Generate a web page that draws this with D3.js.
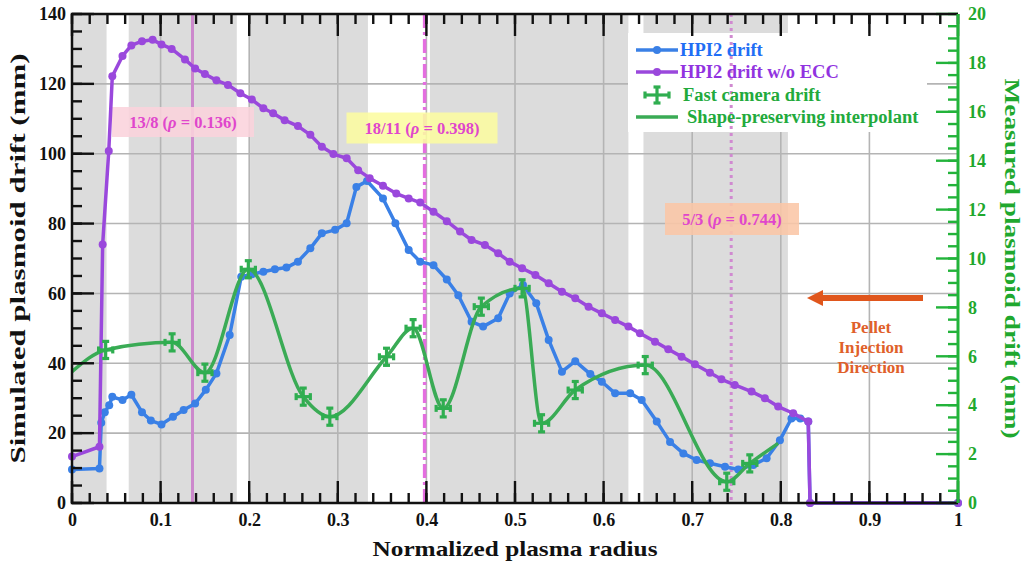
<!DOCTYPE html>
<html>
<head>
<meta charset="utf-8">
<script src="https://cdn.jsdelivr.net/npm/d3@7"></script>
<style>
body { margin: 0; background: #fff; }
text { font-family: "Liberation Serif", "Times New Roman", serif; font-weight: bold; }
</style>
</head>
<body>
<div id="vis"></div>
<script>
// simulated drift, with ECC (blue)
var hpiX = [0, 0.031, 0.033, 0.037, 0.042, 0.0455, 0.057, 0.067, 0.079, 0.089, 0.101, 0.114, 0.126, 0.139, 0.151, 0.163, 0.178, 0.191,
    0.203, 0.216, 0.229, 0.242, 0.255, 0.269, 0.282, 0.297, 0.310, 0.321, 0.333, 0.351, 0.365, 0.380, 0.393, 0.408, 0.423, 0.436,
    0.451, 0.464, 0.481, 0.494, 0.509, 0.524, 0.538, 0.553, 0.568, 0.585, 0.598, 0.613, 0.630, 0.643, 0.660, 0.675, 0.690, 0.705,
    0.720, 0.737, 0.752, 0.769, 0.784, 0.799, 0.812, 0.822, 0.831, 0.833, 1];
var hpiY = [9.6, 9.9, 23, 26, 28, 30.4, 29.5, 31, 26, 23.6, 22.5, 24.7, 26.6, 28.5, 32.4, 37.1, 48.1, 64.8,
    65.5, 66.2, 66.9, 67.4, 69.1, 72.9, 77.2, 78.2, 80.1, 90.5, 92.2, 87.2, 80.1, 72.4, 69.1, 68.1, 64, 59.5,
    51.9, 50.5, 52.9, 60, 62.4, 57.2, 46.7, 37.6, 40.6, 36.9, 34.7, 31.4, 31.4, 29.5, 23.3, 17.5, 14.2, 12.3,
    11.4, 10.4, 9.6, 10.9, 12.8, 18, 24.2, 24.2, 23.3, 0, 0];

// simulated drift without ECC (purple)
var eccX = [0, 0.031, 0.0346, 0.0415, 0.0455, 0.057, 0.067, 0.079, 0.091, 0.101, 0.1125, 0.1275, 0.139, 0.150, 0.163, 0.176, 0.190,
    0.203, 0.216, 0.227, 0.240, 0.255, 0.269, 0.282, 0.295, 0.310, 0.323, 0.336, 0.351, 0.366, 0.380, 0.393, 0.408, 0.423, 0.438,
    0.451, 0.466, 0.481, 0.494, 0.508, 0.523, 0.538, 0.553, 0.568, 0.583, 0.598, 0.613, 0.628, 0.641, 0.658, 0.673, 0.688, 0.703,
    0.720, 0.733, 0.748, 0.767, 0.782, 0.797, 0.814, 0.831, 0.833, 1];
var eccY = [13.3, 16.1, 74, 100.8, 122.2, 128, 131, 132.2, 132.6, 131.3, 130, 127, 124.4, 122.8, 121, 119.7, 117.3,
    115.5, 113, 111.6, 109.6, 107.9, 105.4, 102, 99.9, 98.7, 95.3, 93, 90.8, 88.6, 87.2, 86, 83.4, 80.7, 77.7,
    75.3, 73.9, 71.5, 69.1, 67.2, 65.3, 62.9, 60.5, 58.6, 56.2, 54.3, 52.4, 50.5, 48.6, 46.2, 44.0, 41.9, 39.7,
    37.3, 35.4, 33.8, 31.9, 30, 27.6, 25.7, 23.3, 0, 0];

// fast camera measurement (right axis)
var camX = [0.038, 0.113, 0.150, 0.199, 0.261, 0.291, 0.355, 0.385, 0.419, 0.462, 0.508, 0.530, 0.568, 0.647, 0.739, 0.765];
var camY = [6.26, 6.57, 5.33, 9.56, 4.35, 3.53, 5.98, 7.15, 3.87, 8.03, 8.78, 3.26, 4.62, 5.64, 0.87, 1.62];
var camErrX = [0.008, 0.008, 0.008, 0.008, 0.008, 0.008, 0.008, 0.008, 0.008, 0.008, 0.008, 0.008, 0.008, 0.008, 0.008, 0.008];
var camErrY = [0.35, 0.35, 0.35, 0.35, 0.35, 0.35, 0.35, 0.35, 0.35, 0.35, 0.35, 0.35, 0.35, 0.35, 0.35, 0.35];
// interpolant end points
var fitStart = [0, 5.37], fitEnd = [0.797, 2.44];

// shaded radial ranges
var bandStart = [0, 0.064, 0.201, 0.404, 0.645];
var bandEnd = [0.039, 0.186, 0.334, 0.628, 0.808];

// rational surfaces
var resName = ["13/8", "18/11", "5/3"];
var resRho = [0.136, 0.398, 0.744];

var xTicks = [0, 0.1, 0.2, 0.3, 0.4, 0.5, 0.6, 0.7, 0.8, 0.9, 1];
var xTickLabels = ["0", "0.1", "0.2", "0.3", "0.4", "0.5", "0.6", "0.7", "0.8", "0.9", "1"];
var yTicks = [0, 20, 40, 60, 80, 100, 120, 140];
var y2Ticks = [0, 2, 4, 6, 8, 10, 12, 14, 16, 18, 20];

var W = 1029, H = 565,
    m = {top: 14, right: 71, bottom: 62, left: 72};

var svg = d3.select("#vis").append("svg").attr("width", W).attr("height", H);

var x = d3.scaleLinear().domain([0, 1]).range([m.left, W - m.right]),
    y = d3.scaleLinear().domain([0, 140]).range([H - m.bottom, m.top]),
    y2 = d3.scaleLinear().domain([0, 20]).range([H - m.bottom, m.top]);

var blue = "#3a80e6", purple = "#9a48dc", green = "#3aab55", green2 = "#22b33a";

// bands
svg.append("g").selectAll("rect").data(bandStart).join("rect")
    .attr("x", function(d) { return x(d); })
    .attr("width", function(d, i) { return x(bandEnd[i]) - x(d); })
    .attr("y", m.top).attr("height", y(0) - m.top)
    .attr("fill", "#dcdcdc");

// grid
var grid = svg.append("g").attr("stroke", "#b4b4b4").attr("stroke-width", 1.6);
grid.selectAll(".gx").data(xTicks.slice(1, -1)).join("line")
    .attr("x1", function(d) { return x(d); }).attr("x2", function(d) { return x(d); })
    .attr("y1", m.top).attr("y2", y(0));
grid.selectAll(".gy").data(yTicks.slice(1, -1)).join("line")
    .attr("x1", m.left).attr("x2", W - m.right)
    .attr("y1", function(d) { return y(d); }).attr("y2", function(d) { return y(d); });

// legend background (hides grid)
svg.append("rect").attr("x", 628).attr("y", 33).attr("width", 299).attr("height", 99).attr("fill", "#fff");

// resonance lines
var resStyle = [
    {color: "#cc88cc", dash: null, w: 3},
    {color: "#e46ee0", dash: "14,4,3,4", w: 3.5},
    {color: "#d08ad0", dash: "3,4", w: 3}
];
svg.append("g").selectAll("line").data(resRho).join("line")
    .attr("x1", function(d) { return x(d); }).attr("x2", function(d) { return x(d); })
    .attr("y1", m.top).attr("y2", y(0))
    .attr("stroke", function(d, i) { return resStyle[i].color; })
    .attr("stroke-width", function(d, i) { return resStyle[i].w; })
    .attr("stroke-dasharray", function(d, i) { return resStyle[i].dash; });

// resonance labels
var boxes = [
    {cx: 183, cy: 122, w: 142, h: 30, fill: "#fbd3dc"},
    {cx: 422, cy: 128, w: 151, h: 31, fill: "#fcfca0"},
    {cx: 732, cy: 219, w: 134, h: 32, fill: "#fbc6a6"}
];
var lab = svg.append("g").selectAll("g").data(resName).join("g")
    .attr("transform", function(d, i) { return "translate(" + boxes[i].cx + "," + boxes[i].cy + ")"; });
lab.append("rect")
    .attr("x", function(d, i) { return -boxes[i].w / 2; }).attr("y", function(d, i) { return -boxes[i].h / 2; })
    .attr("width", function(d, i) { return boxes[i].w; }).attr("height", function(d, i) { return boxes[i].h; })
    .attr("fill", function(d, i) { return boxes[i].fill; }).attr("opacity", 0.88);
var lt = lab.append("text").attr("text-anchor", "middle").attr("dy", "0.35em")
    .attr("font-size", 16.5).attr("fill", "#e046cc");
lt.append("tspan").text(function(d) { return d + " ("; });
lt.append("tspan").attr("font-style", "italic").text("\u03c1");
lt.append("tspan").text(function(d, i) { return " = " + resRho[i] + ")"; });

// curves
var line = d3.line().x(function(d) { return x(d[0]); }).y(function(d) { return y(d[1]); });
var hpi = hpiX.map(function(v, i) { return [v, hpiY[i]]; }),
    ecc = eccX.map(function(v, i) { return [v, eccY[i]]; });

function drawSeries(data, color) {
    var g = svg.append("g");
    g.append("path").datum(data).attr("d", line)
        .attr("fill", "none").attr("stroke", color).attr("stroke-width", 3.5).attr("stroke-linejoin", "round");
    g.selectAll("circle").data(data).join("circle")
        .attr("cx", function(d) { return x(d[0]); }).attr("cy", function(d) { return y(d[1]); })
        .attr("r", 4).attr("fill", color);
}
drawSeries(hpi, blue);
drawSeries(ecc, purple);

// shape-preserving interpolant ~ monotone cubic
var fit = [fitStart].concat(camX.map(function(v, i) { return [v, camY[i]]; }), [fitEnd]);
svg.append("path").datum(fit)
    .attr("d", d3.line().curve(d3.curveMonotoneX)
        .x(function(d) { return x(d[0]); }).y(function(d) { return y2(d[1]); }))
    .attr("fill", "none").attr("stroke", green).attr("stroke-width", 3.5);

// error bar markers
function errMark(g, cx, cy, hx, hy, color) {
    var c = 7;
    var segs = [
        [cx - hx, cy, cx + hx, cy], [cx, cy - hy, cx, cy + hy],
        [cx - hx, cy - c / 2, cx - hx, cy + c / 2], [cx + hx, cy - c / 2, cx + hx, cy + c / 2],
        [cx - c / 2, cy - hy, cx + c / 2, cy - hy], [cx - c / 2, cy + hy, cx + c / 2, cy + hy]
    ];
    segs.forEach(function(s) {
        g.append("line").attr("x1", s[0]).attr("y1", s[1]).attr("x2", s[2]).attr("y2", s[3])
            .attr("stroke", color).attr("stroke-width", 3.2);
    });
}
var cam = svg.append("g");
camX.forEach(function(v, i) {
    var cx = x(v), cy = y2(camY[i]);
    errMark(cam, cx, cy, x(v + camErrX[i]) - cx, cy - y2(camY[i] + camErrY[i]), "#2fae50");
});

// tick labels via d3 axes (no tick lines)
function labels(axis, tr, ticks, fmt) {
    var g = svg.append("g").attr("transform", tr)
        .call(axis.tickValues(ticks).tickSize(0).tickFormat(fmt));
    g.select(".domain").remove();
    return g;
}
labels(d3.axisBottom(x).tickPadding(10), "translate(0," + y(0) + ")", xTicks,
    function(d, i) { return xTickLabels[i]; })
    .selectAll("text").attr("font-size", 18).attr("fill", "#111");
labels(d3.axisLeft(y).tickPadding(6), "translate(" + m.left + ",0)", yTicks, d3.format("d"))
    .selectAll("text").attr("font-size", 18).attr("fill", "#111");
labels(d3.axisRight(y2).tickPadding(10), "translate(" + (W - m.right) + ",0)", y2Ticks, d3.format("d"))
    .selectAll("text").attr("font-size", 18).attr("fill", "#1fa82e");

// inward tick marks
var tk = svg.append("g").attr("stroke-width", 2.4);
function vTicks(vals, len, y0, dir, col) {
    tk.append("g").attr("stroke", col).selectAll("line").data(vals).join("line")
        .attr("x1", function(d) { return x(d); }).attr("x2", function(d) { return x(d); })
        .attr("y1", y0).attr("y2", y0 + dir * len);
}
function hTicks(sc, vals, len, x0, dir, col) {
    tk.append("g").attr("stroke", col).selectAll("line").data(vals).join("line")
        .attr("y1", function(d) { return sc(d); }).attr("y2", function(d) { return sc(d); })
        .attr("x1", x0).attr("x2", x0 + dir * len);
}
var xMinor = d3.range(0, 1.001, 0.02), yMinor = d3.range(0, 140.1, 5), y2Minor = d3.range(0, 20.01, 0.5);
vTicks(xMinor, 10, y(0), -1, "#111");
vTicks(xTicks, 22, y(0), -1, "#111");
vTicks(xMinor, 10, m.top, 1, "#111");
vTicks(xTicks, 22, m.top, 1, "#111");
hTicks(y, yMinor, 10, m.left, 1, "#111");
hTicks(y, yTicks, 22, m.left, 1, "#111");
hTicks(y2, y2Minor, 10, x(1), -1, green2);
hTicks(y2, y2Ticks, 22, x(1), -1, green2);

// frame
svg.append("path")
    .attr("d", "M" + x(1) + "," + m.top + "H" + m.left + "V" + y(0) + "H" + x(1))
    .attr("fill", "none").attr("stroke", "#111").attr("stroke-width", 2.5);
svg.append("line").attr("x1", x(1)).attr("x2", x(1)).attr("y1", m.top).attr("y2", y(0))
    .attr("stroke", green2).attr("stroke-width", 3);

// axis titles
svg.append("text").attr("x", (m.left + x(1)) / 2).attr("y", 556).attr("text-anchor", "middle")
    .attr("font-size", 21).attr("textLength", 285).attr("lengthAdjust", "spacingAndGlyphs")
    .attr("fill", "#111").text("Normalized plasma radius");
svg.append("text").attr("transform", "translate(25," + (m.top + y(0)) / 2 + ") rotate(-90)")
    .attr("text-anchor", "middle").attr("font-size", 21).attr("textLength", 410).attr("lengthAdjust", "spacingAndGlyphs")
    .attr("fill", "#111").text("Simulated plasmoid drift (mm)");
svg.append("text").attr("transform", "translate(1005," + (m.top + y(0)) / 2 + ") rotate(90)")
    .attr("text-anchor", "middle").attr("font-size", 21).attr("textLength", 360).attr("lengthAdjust", "spacingAndGlyphs")
    .attr("fill", "#1fa82e").text("Measured plasmoid drift (mm)");

// legend
var leg = svg.append("g");
var legItems = [
    {t: "HPI2 drift", c: "#1f6ef5", type: "dot", col: blue, y: 50, tx: 680},
    {t: "HPI2 drift w/o ECC", c: "#9133e0", type: "dot", col: purple, y: 72, tx: 680},
    {t: "Fast camera drift", c: "#22aa3c", type: "err", col: "#2fae50", y: 95, tx: 683},
    {t: "Shape-preserving interpolant", c: "#22aa3c", type: "line", col: green, y: 117, tx: 687}
];
legItems.forEach(function(d) {
    if (d.type !== "err") {
        leg.append("line").attr("x1", 636).attr("x2", 678).attr("y1", d.y).attr("y2", d.y)
            .attr("stroke", d.col).attr("stroke-width", 3.5);
    }
    if (d.type === "dot") {
        leg.append("circle").attr("cx", 657).attr("cy", d.y).attr("r", 4).attr("fill", d.col);
    }
    if (d.type === "err") errMark(leg, 657, d.y, 12, 8, d.col);
    leg.append("text").attr("x", d.tx).attr("y", d.y).attr("dy", "0.35em")
        .attr("font-size", 18.5).attr("fill", d.c).text(d.t);
});

// pellet injection arrow
svg.append("line").attr("x1", 923).attr("x2", 820).attr("y1", 298).attr("y2", 298)
    .attr("stroke", "#e0561c").attr("stroke-width", 6);
svg.append("path").attr("d", "M807,298 L823,290 L823,306 Z").attr("fill", "#e0561c");
["Pellet", "Injection", "Direction"].forEach(function(t, i) {
    svg.append("text").attr("x", 871).attr("y", 333 + i * 20).attr("text-anchor", "middle")
        .attr("font-size", 17).attr("fill", "#e0602a").text(t);
});
</script>
</body>
</html>
